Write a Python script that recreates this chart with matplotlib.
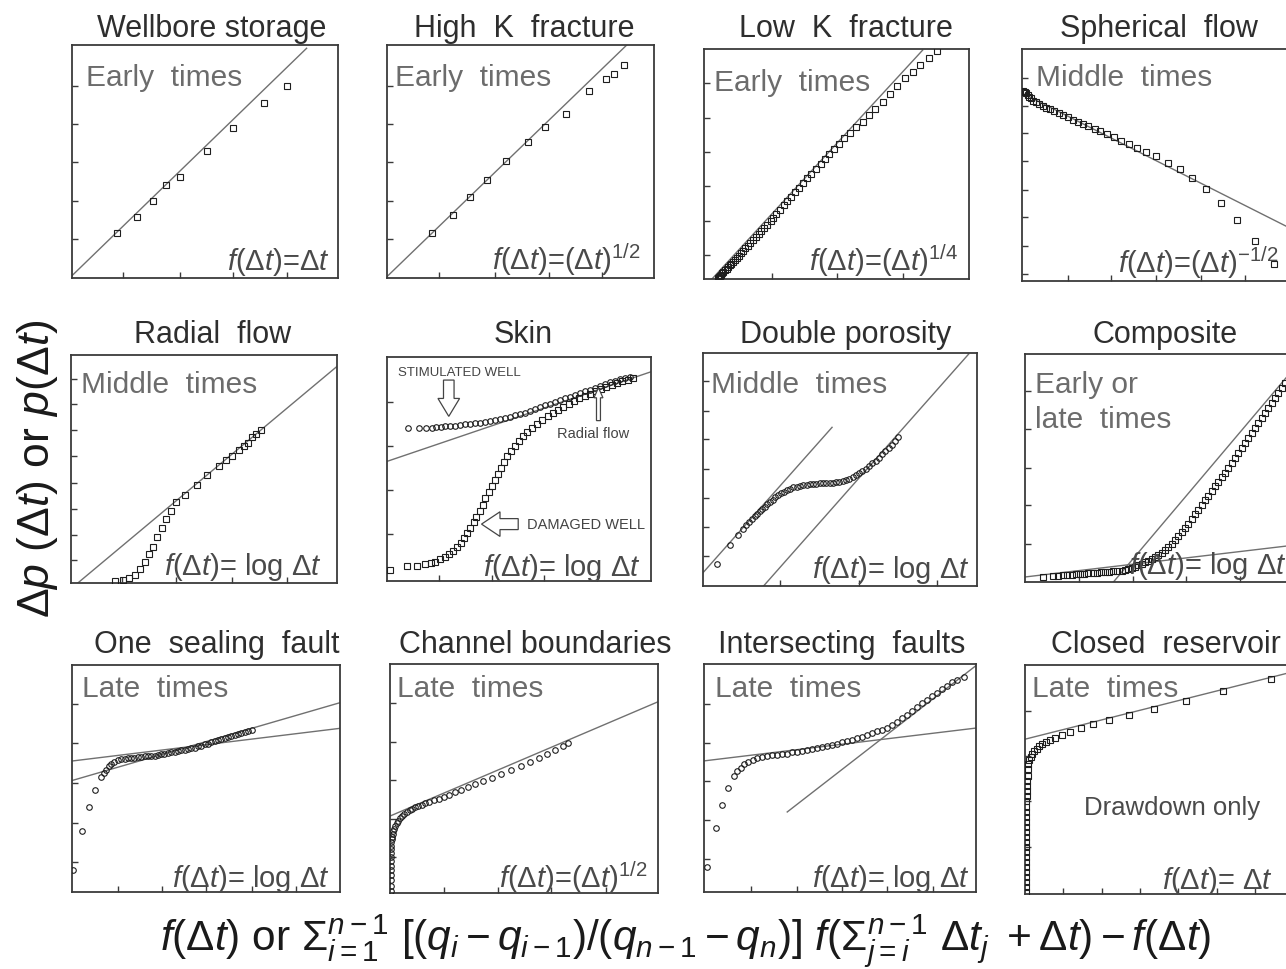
import matplotlib
matplotlib.use("Agg")
import matplotlib.pyplot as plt
from matplotlib.patches import FancyArrow

plt.rcParams['font.family'] = ['Liberation Sans', 'DejaVu Sans']
plt.rcParams['mathtext.fontset'] = 'custom'
plt.rcParams['mathtext.rm'] = 'Liberation Sans'
plt.rcParams['mathtext.it'] = 'Liberation Sans:italic'
plt.rcParams['mathtext.bf'] = 'Liberation Sans:bold'
plt.rcParams['mathtext.sf'] = 'Liberation Sans'

# ---- data (percent of each panel box) ----
wellbore_x = [17.0, 24.3, 30.6, 35.3, 40.6, 50.6, 60.6, 72.2, 80.7]
wellbore_y = [19.2, 26.1, 33.0, 39.9, 43.2, 54.6, 64.2, 75.1, 82.3]
wellbore_line = ([0, 88.2], [1.0, 98.6])

highk_x = [16.9, 24.7, 31.1, 37.5, 44.6, 52.8, 59.2, 67.0, 75.7, 82.0, 85.0, 88.8]
highk_y = [19.3, 27.0, 34.8, 42.1, 50.2, 58.4, 64.8, 70.4, 80.3, 85.4, 87.6, 91.4]
highk_line = ([0, 89.8], [0.6, 100])

lowk_x = [5.1, 5.6, 6.0, 6.4, 6.8, 7.3, 7.9, 8.5, 9.0, 9.7, 10.3, 11.0, 11.7, 12.4,
          13.1, 13.9, 14.7, 15.6, 16.5, 17.5, 18.5, 19.5, 20.6, 21.6, 22.7, 23.9,
          25.2, 25.9, 27.3, 28.7, 30.2, 31.4, 33.0, 34.5, 36.0, 37.5, 39.0, 40.5,
          42.3, 44.0, 45.5, 47.3, 49.1, 50.8, 52.8, 55.1, 57.4, 59.9, 62.3, 64.7,
          67.4, 70.2, 72.7, 75.8, 78.7, 81.5, 84.8, 88.1]
lowk_y = [0.3, 0.8, 1.3, 1.8, 2.4, 3.0, 3.7, 4.4, 5.1, 5.9, 6.7, 7.5, 8.4, 9.3,
          10.2, 11.2, 12.2, 13.3, 14.4, 15.6, 16.8, 18.1, 19.4, 20.7, 22.1, 23.6,
          25.1, 26.7, 28.4, 30.2, 32.1, 33.9, 35.7, 37.7, 39.7, 41.8, 43.7, 45.8,
          47.8, 50.1, 52.2, 54.2, 56.5, 58.8, 61.1, 63.4, 66.0, 68.4, 71.5, 74.0,
          77.1, 80.6, 84.0, 87.3, 90.1, 93.1, 96.2, 99.2]
lowk_line = ([3.0, 82.5], [0, 99.5])

sph_x = [0.4, 0.8, 1.1, 1.5, 2.1, 2.8, 3.4, 4.3, 5.3, 6.5, 7.8, 9.0, 10.5, 12.1,
         13.8, 15.3, 17.1, 19.0, 20.9, 22.8, 24.9, 27.2, 29.3, 31.8, 34.3, 37.2,
         40.1, 43.2, 46.6, 50.3, 54.7, 59.1, 63.8, 69.1, 74.6, 80.6, 87.4, 94.5]
sph_y = [82.0, 81.6, 81.3, 81.0, 80.2, 79.4, 78.8, 77.8, 77.2, 76.3, 75.6, 74.7,
         74.1, 73.1, 72.3, 71.5, 70.6, 69.6, 68.7, 67.7, 66.8, 65.7, 64.6, 63.3,
         62.0, 60.4, 58.9, 57.4, 55.7, 53.8, 50.9, 48.1, 44.3, 39.6, 33.5, 26.1,
         17.1, 7.5]
sph_line = ([0, 100], [81.0, 23.0])

rad_x = [16.6, 19.7, 21.8, 24.0, 25.9, 27.8, 29.3, 30.9, 32.3, 34.1, 35.7, 37.5,
         39.6, 43.0, 47.2, 51.3, 55.5, 58.2, 60.4, 63.3, 64.9, 66.4, 67.9, 69.6, 71.4]
rad_y = [1.0, 1.5, 2.2, 3.7, 6.2, 9.3, 12.7, 16.0, 20.0, 24.1, 27.9, 31.4, 35.4,
         38.8, 43.1, 47.3, 51.1, 53.8, 55.9, 58.5, 60.0, 61.6, 64.0, 65.2, 67.1]
rad_line = ([0, 100], [-2.5, 95.0])

skin_stim_x = [8.0, 12.2, 14.7, 17.2, 18.7, 20.3, 21.9, 23.8, 25.7, 27.6, 29.5,
               31.4, 33.3, 35.2, 37.1, 39.0, 40.9, 42.8, 44.7, 46.6, 48.5, 50.4,
               52.3, 54.2, 56.1, 58.0, 59.9, 61.8, 63.7, 65.6, 67.5, 69.4, 71.3,
               73.2, 75.1, 77.0, 78.9, 80.8, 82.7, 84.6, 86.5, 88.4, 90.3, 92.2]
skin_stim_y = [68.1, 68.1, 68.4, 68.4, 68.7, 68.7, 69.0, 69.1, 69.3, 69.6, 69.9,
               70.1, 70.4, 70.7, 71.0, 71.5, 71.9, 72.4, 72.8, 73.4, 74.0, 74.6,
               75.1, 75.9, 76.6, 77.5, 78.4, 79.1, 79.9, 80.7, 81.5, 82.2, 83.1,
               83.8, 84.6, 85.4, 86.3, 87.1, 87.9, 88.7, 89.4, 90.0, 90.7, 91.0]
skin_dam_x = [1.3, 7.6, 11.4, 14.3, 16.5, 18.2, 20.0, 21.8, 23.4, 25.1, 26.6, 28.0,
              29.2, 30.4, 31.6, 32.8, 33.9, 35.1, 36.2, 37.3, 38.5, 39.6, 40.8,
              41.9, 43.0, 44.3, 45.6, 47.0, 48.4, 49.9, 51.4, 53.0, 54.8, 56.7,
              58.7, 60.8, 62.8, 64.8, 66.8, 68.9, 70.9, 72.9, 74.9, 77.0, 79.0,
              81.0, 83.0, 85.1, 87.1, 89.1, 91.1, 93.2]
skin_dam_y = [4.7, 6.6, 6.9, 7.4, 8.1, 8.7, 9.6, 10.7, 12.1, 13.5, 15.1, 16.9,
              19.0, 21.3, 23.7, 26.2, 28.7, 31.3, 34.1, 36.9, 39.7, 42.5, 45.1,
              47.8, 50.4, 53.1, 55.6, 58.1, 60.4, 62.6, 64.7, 66.6, 68.4, 70.0,
              71.8, 73.5, 75.0, 76.4, 77.8, 79.1, 80.3, 81.5, 82.6, 83.7, 84.7,
              85.7, 86.6, 87.5, 88.3, 89.1, 89.9, 90.6]
skin_line = ([0, 100], [53.4, 93.4])

dp_x = [5.1, 9.7, 12.8, 14.6, 15.8, 16.9, 17.9, 18.9, 19.8, 20.7, 21.6, 22.5,
        23.4, 24.4, 25.4, 26.4, 27.4, 28.5, 29.6, 30.7, 31.8, 33.0, 34.2, 35.4,
        36.6, 37.8, 39.0, 40.2, 41.4, 42.6, 43.8, 45.0, 46.2, 47.4, 48.6, 49.8,
        51.0, 52.2, 53.4, 54.6, 55.8, 57.0, 58.2, 59.4, 60.6, 61.8, 63.0, 64.2,
        65.4, 66.6, 67.8, 69.0, 70.2, 71.2]
dp_y = [9.6, 17.4, 21.7, 24.6, 26.0, 27.4, 28.7, 30.0, 31.0, 32.1, 33.1, 34.0,
        35.0, 36.1, 37.0, 38.0, 38.9, 39.8, 40.5, 41.2, 41.8, 42.3, 42.7, 43.0,
        43.3, 43.5, 43.7, 43.8, 43.9, 44.0, 44.0, 44.1, 44.2, 44.3, 44.5, 44.7,
        45.0, 45.5, 46.1, 46.8, 47.6, 48.4, 49.3, 50.4, 51.5, 52.6, 53.8, 55.1,
        56.5, 57.9, 59.2, 60.6, 62.2, 63.8]
dp_line_early = ([0, 47.1], [5.7, 68.1])
dp_line_late = ([22.1, 97.0], [0, 99.6])

comp_x = [6.9, 10.7, 12.6, 14.5, 16.0, 17.7, 19.3, 20.8, 22.3, 24.0, 25.6, 27.1,
          28.7, 30.3, 31.9, 33.5, 35.0, 36.6, 37.9, 39.1, 40.4, 41.7, 42.9, 44.2,
          45.5, 46.7, 48.0, 49.2, 50.5, 51.8, 53.0, 54.3, 55.6, 56.8, 58.1, 59.3,
          60.6, 61.9, 63.1, 64.4, 65.7, 66.9, 68.2, 69.4, 70.7, 72.0, 73.2, 74.5,
          75.8, 77.0, 78.3, 79.5, 80.8, 82.1, 83.3, 84.6, 85.9, 87.1, 88.4, 89.6,
          90.9, 92.2, 93.4, 94.7, 96.0, 97.2, 98.5]
comp_y = [2.2, 2.6, 2.8, 2.9, 3.1, 3.2, 3.3, 3.5, 3.6, 3.8, 3.9, 4.1, 4.2, 4.4,
          4.5, 4.7, 4.8, 4.9, 5.2, 5.7, 6.1, 6.7, 7.3, 7.8, 8.6, 9.3, 10.0, 10.9,
          11.8, 12.8, 14.0, 15.3, 16.7, 18.3, 20.1, 21.8, 23.7, 25.6, 27.6, 29.7,
          31.7, 33.7, 35.8, 37.8, 39.8, 41.9, 43.9, 45.9, 48.0, 50.1, 52.3, 54.5,
          56.7, 58.9, 61.0, 63.2, 65.4, 67.6, 69.8, 71.9, 74.1, 76.3, 78.5, 80.7,
          82.8, 85.0, 87.2]
comp_line_inner = ([0, 100], [2.2, 15.9])
comp_line_outer = ([33.5, 100], [0, 91.1])

osf_x = [0.5, 3.7, 6.2, 8.6, 10.8, 11.8, 12.7, 13.7, 14.7, 15.8, 17.1, 18.3, 19.6,
         20.8, 22.1, 23.3, 24.6, 25.8, 27.1, 28.3, 29.6, 30.8, 32.0, 33.3, 34.5,
         35.8, 37.0, 38.3, 39.5, 40.8, 42.0, 43.3, 44.5, 45.8, 47.0, 48.3, 49.5,
         50.7, 52.0, 53.2, 54.5, 55.7, 57.0, 58.2, 59.5, 60.7, 62.0, 63.2, 64.5,
         65.7, 67.0]
osf_y = [9.7, 26.7, 37.3, 44.9, 50.6, 52.4, 53.9, 55.3, 56.5, 57.4, 58.0, 58.5,
         58.8, 58.9, 59.1, 59.2, 59.4, 59.5, 59.7, 59.8, 60.0, 60.1, 60.3, 60.6,
         60.9, 61.2, 61.5, 61.8, 62.1, 62.4, 62.7, 63.0, 63.3, 63.6, 64.1, 64.5,
         65.0, 65.4, 65.9, 66.3, 66.8, 67.2, 67.7, 68.1, 68.6, 69.0, 69.5, 69.9,
         70.4, 70.8, 71.5]
osf_line_fault = ([0, 100], [49.1, 83.4])
osf_line_radial = ([0, 100], [57.7, 72.1])

ch_x = [0.25, 0.25, 0.25, 0.25, 0.25, 0.25, 0.25, 0.25, 0.25, 0.4, 0.4, 0.5, 0.6,
        0.8, 1.0, 1.3, 1.6, 2.0, 2.5, 3.1, 3.8, 4.5, 5.4, 6.3, 7.3, 8.3, 9.4, 10.5,
        11.8, 13.2, 14.7, 16.3, 18.1, 20.1, 22.1, 24.3, 26.6, 29.1, 31.9, 34.8,
        37.9, 41.4, 45.2, 48.9, 52.3, 55.5, 58.6, 61.7, 64.6, 66.5]
ch_y = [0.7, 2.9, 5.5, 7.9, 9.9, 12.0, 13.9, 15.8, 17.5, 19.3, 20.7, 22.2, 23.4,
        24.5, 25.7, 26.9, 28.0, 29.2, 30.4, 31.5, 32.6, 33.6, 34.6, 35.5, 36.2,
        36.8, 37.4, 37.8, 38.4, 39.1, 39.7, 40.4, 41.2, 42.0, 42.9, 43.9, 45.0,
        46.1, 47.4, 48.8, 50.2, 52.0, 53.7, 55.5, 57.3, 59.1, 60.9, 62.6, 64.3, 65.6]
ch_line = ([0, 100], [33.6, 83.5])

if_x = [1.0, 4.4, 6.7, 8.9, 11.0, 12.3, 13.5, 14.8, 16.3, 17.9, 19.6, 21.3, 23.0,
        24.9, 26.7, 28.6, 30.4, 32.2, 34.1, 35.9, 37.7, 39.6, 41.4, 43.3, 45.1,
        46.9, 48.8, 50.6, 52.5, 54.3, 56.1, 58.0, 59.8, 61.6, 63.5, 65.3, 67.2,
        69.0, 70.8, 72.7, 74.5, 76.3, 78.2, 80.0, 81.9, 83.7, 85.5, 87.4, 89.2,
        91.1, 92.9, 95.6]
if_y = [10.8, 27.9, 38.1, 45.6, 51.0, 52.9, 54.5, 56.0, 57.2, 58.1, 58.8, 59.3,
        59.6, 59.9, 60.1, 60.4, 60.7, 61.2, 61.5, 61.9, 62.4, 62.8, 63.3, 63.7,
        64.1, 64.6, 65.0, 65.6, 66.2, 66.8, 67.4, 68.1, 68.9, 69.6, 70.4, 71.1,
        72.1, 73.2, 74.7, 76.1, 77.8, 79.4, 81.0, 82.7, 84.3, 85.9, 87.4, 88.9,
        90.4, 91.9, 93.0, 94.1]
if_line_radial = ([0, 100], [57.5, 71.9])
if_line_faults = ([30.6, 100], [35.1, 99.3])

cr_x = [0.25, 0.25, 0.25, 0.25, 0.25, 0.25, 0.25, 0.25, 0.25, 0.25, 0.25, 0.4,
        0.4, 0.4, 0.4, 0.4, 0.5, 0.5, 0.5, 0.6, 0.6, 0.8, 0.9, 1.0, 1.0, 1.3, 1.6,
        2.1, 2.8, 3.5, 4.4, 5.4, 6.6, 8.0, 9.5, 11.4, 13.9, 17.0, 21.1, 25.9,
        31.9, 39.5, 48.9, 60.9, 75.1, 93.2]
cr_y = [0.7, 2.9, 5.1, 7.4, 9.6, 11.8, 14.0, 16.2, 18.4, 20.6, 22.8, 25.0, 27.2,
        29.4, 31.6, 33.8, 36.0, 38.2, 40.4, 42.6, 44.9, 47.1, 49.3, 51.5, 54.4,
        56.6, 58.5, 60.0, 61.3, 62.5, 63.5, 64.6, 65.4, 66.5, 67.4, 68.2, 69.4,
        70.9, 72.4, 74.3, 76.0, 78.2, 80.9, 84.3, 88.5, 93.8]
cr_line = ([0, 100], [67.6, 96.6])

titles = ['Wellbore storage', 'High  K  fracture', 'Low  K  fracture', 'Spherical  flow',
          'Radial  flow', 'Skin', 'Double porosity', 'Composite',
          'One  sealing  fault', 'Channel boundaries', 'Intersecting  faults', 'Closed  reservoir']
# each regime label is a list of lines
regimes = [['Early  times'], ['Early  times'], ['Early  times'], ['Middle  times'],
           ['Middle  times'], [], ['Middle  times'], ['Early or', 'late  times'],
           ['Late  times'], ['Late  times'], ['Late  times'], ['Late  times']]
formulas = [r'$f(\Delta t)$=$\Delta t$', r'$f(\Delta t)$=$(\Delta t)^{1/2}$',
            r'$f(\Delta t)$=$(\Delta t)^{1/4}$', r'$f(\Delta t)$=$(\Delta t)^{-1/2}$',
            r'$f(\Delta t)$= log $\Delta t$', r'$f(\Delta t)$= log $\Delta t$',
            r'$f(\Delta t)$= log $\Delta t$', r'$f(\Delta t)$= log $\Delta t$',
            r'$f(\Delta t)$= log $\Delta t$', r'$f(\Delta t)$=$(\Delta t)^{1/2}$',
            r'$f(\Delta t)$= log $\Delta t$', r'$f(\Delta t)$= $\Delta t$']

# ---- layout (pixels of the 1286x970 picture) ----
W, H = 1286, 970
boxes = [(72, 46, 338, 279), (387, 46, 654, 279), (704, 50, 969, 280), (1022, 50, 1289, 282),
         (71, 356, 337, 584), (387, 358, 651, 582), (703, 354, 977, 587), (1025, 355, 1289, 583),
         (72, 666, 340, 893), (390, 665, 658, 894), (704, 665, 976, 893), (1025, 666, 1289, 895)]
title_off = [(7, 17), (4, 17), (9, 21), (3, 21), (9, 21), (4, 23), (6, 19), (8, 20),
             (11, 21), (11, 20), (2, 20), (9, 21)]
label_off = [(14, 32), (8, 32), (10, 33), (14, 28), (10, 29), (0, 0), (8, 31), (10, 30),
             (10, 23), (7, 24), (11, 24), (7, 23)]
label_gap = 35
formula_off = [(8, 9), (13, 9), (11, 9), (11, 9), (15, 9), (10, 6), (7, 9), (2, 9),
               (10, 6), (10, 6), (6, 6), (16, 6)]
xticks = [[19.3, 40.6, 60.6, 80.7], [19.3, 40.6, 60.6, 80.7], [25.5, 50.3, 75.2],
          [17.1, 33.4, 50.3, 67.0, 83.7], [19.2, 39.6, 60.4, 81.1], [19.7, 39.6, 59.6, 79.7],
          [28.2, 56.8, 85.4], [20.5, 40.8, 61.0, 81.4], [17.1, 33.7, 50.1, 67.0, 83.5],
          [20.3, 40.4, 60.2, 80.6], [17.2, 34.1, 50.6, 67.4, 84.3],
          [14.5, 29.0, 43.6, 58.1, 72.6, 87.1]]
yticks = [[16.7, 33.2, 49.7, 66.0, 82.3], [16.7, 33.2, 49.7, 66.0, 82.3],
          [10.4, 25.3, 40.3, 55.1, 70.1, 85.3],
          [3.2, 15.2, 27.4, 39.4, 51.6, 63.8, 75.6, 87.7],
          [10.1, 21.0, 32.6, 44.0, 55.6, 67.0, 78.5, 89.6], [20.9, 40.7, 60.3, 80.1],
          [12.9, 25.3, 37.9, 50.3, 62.9, 75.3, 87.9], [16.7, 33.7, 50.1, 66.9, 83.6],
          [13.1, 30.5, 48.0, 65.6, 82.9], [15.6, 32.4, 49.3, 66.0, 82.8],
          [14.5, 31.4, 48.6, 65.5, 82.5], [20.5, 40.4, 60.3, 80.1]]
series = [[(wellbore_x, wellbore_y, 's')], [(highk_x, highk_y, 's')], [(lowk_x, lowk_y, 's')],
          [(sph_x, sph_y, 's')], [(rad_x, rad_y, 's')],
          [(skin_stim_x, skin_stim_y, 'o'), (skin_dam_x, skin_dam_y, 's')],
          [(dp_x, dp_y, 'o')], [(comp_x, comp_y, 's')], [(osf_x, osf_y, 'o')],
          [(ch_x, ch_y, 'o')], [(if_x, if_y, 'o')], [(cr_x, cr_y, 's')]]
lines = [[wellbore_line], [highk_line], [lowk_line], [sph_line], [rad_line], [skin_line],
         [dp_line_early, dp_line_late], [comp_line_inner, comp_line_outer],
         [osf_line_fault, osf_line_radial], [ch_line], [if_line_radial, if_line_faults],
         [cr_line]]

PT = 72 / 100  # pixels -> points at dpi 100
dark = '#2e2e2e'
grey_txt = '#6c6c6c'
f_txt = '#4a4a4a'
line_c = '#707070'

fig = plt.figure(figsize=(W / 100, H / 100), dpi=100)

axes = []
for k in range(12):
    l, t, r, b = boxes[k]
    ax = fig.add_axes([l / W, 1 - b / H, (r - l) / W, (b - t) / H])
    ax.set_xlim(0, 100)
    ax.set_ylim(0, 100)
    ax.set_xticks(xticks[k])
    ax.set_yticks(yticks[k])
    ax.tick_params(direction='in', length=4, width=1, color='#3a3a3a',
                   labelleft=False, labelbottom=False)
    for sp in ax.spines.values():
        sp.set_color('#3a3a3a')
        sp.set_linewidth(1.3)

    for lx, ly in lines[k]:
        ax.plot(lx, ly, color=line_c, lw=1.0, zorder=2)
    for sx, sy, mk in series[k]:
        ax.plot(sx, sy, ls='none', marker=mk, ms=3.8 if mk == 's' else 4.0,
                mfc='none', mec='#1e1e1e', mew=0.8, zorder=3)

    dx, dy = title_off[k]
    ax.annotate(titles[k], xy=(0.5, 1), xycoords='axes fraction',
                xytext=(dx * PT, dy * PT), textcoords='offset points',
                ha='center', va='center', fontsize=22, color=dark)
    dx, dy = label_off[k]
    for n, txt in enumerate(regimes[k]):
        ax.annotate(txt, xy=(0, 1), xycoords='axes fraction',
                    xytext=(dx * PT, -(dy + n * label_gap) * PT), textcoords='offset points',
                    ha='left', va='center', fontsize=21.5, color=grey_txt)
    dx, dy = formula_off[k]
    ax.annotate(formulas[k], xy=(1, 0), xycoords='axes fraction',
                xytext=(-dx * PT, dy * PT), textcoords='offset points',
                ha='right', va='baseline', fontsize=21, color=f_txt)
    axes.append(ax)

# ---- skin panel annotations ----
ax = axes[5]
ax.text(4.2, 93.4, 'STIMULATED WELL', fontsize=9.5, color='#444444', va='center')
ax.text(64.3, 66.2, 'Radial flow', fontsize=10.5, color='#444444', va='center')
ax.text(52.9, 25.4, 'DAMAGED WELL', fontsize=10.5, color='#444444', va='center')
ax.add_patch(FancyArrow(23.4, 89.7, 0, -16.2, width=4, head_width=8.2, head_length=8,
                        length_includes_head=True, fc='white', ec='#444444', lw=0.9,
                        zorder=4))
ax.add_patch(FancyArrow(80.1, 71.6, 0, 14.7, width=1.5, head_width=3.4, head_length=4.5,
                        length_includes_head=True, fc='white', ec='#444444', lw=0.9,
                        zorder=4))
ax.add_patch(FancyArrow(49.7, 25.4, -13.9, 0, width=4.9, head_width=11, head_length=7,
                        length_includes_head=True, fc='white', ec='#444444', lw=0.9,
                        zorder=4))

axes[11].text(55.7, 38.2, 'Drawdown only', fontsize=18.5, color='#4a4a4a',
              ha='center', va='center')

# ---- axis titles of the whole figure ----
fig.text(38 / W, 1 - 469 / H, r'$\Delta p$ $(\Delta t)$ or $p(\Delta t)$', rotation=90,
         ha='center', va='center', fontsize=32, color='#1a1a1a')
fig.text(686 / W, 1 - 941 / H,
         r'$f(\Delta t)$ or $\Sigma_{i=1}^{n-1}$ $[(q_i - q_{i-1})/(q_{n-1} - q_n)]$ '
         r'$f(\Sigma_{j=i}^{n-1}\ \Delta t_j\ + \Delta t) - f(\Delta t)$',
         ha='center', va='center', fontsize=30.5, color='#1a1a1a')

fig.savefig('out.png', dpi=100)
